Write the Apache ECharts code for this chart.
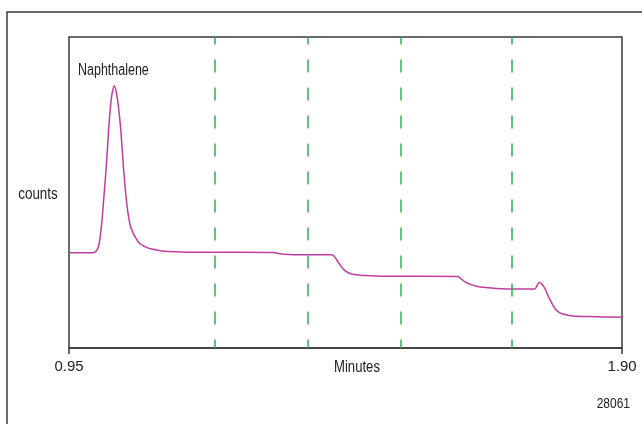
<!DOCTYPE html>
<html>
<head>
<meta charset="utf-8">
<script src="https://cdn.jsdelivr.net/npm/echarts@6/dist/echarts.min.js"></script>
<style>html,body{margin:0;padding:0;background:#fff;}#c{width:642px;height:424px;}</style>
</head>
<body>
<div id="c"></div>
<script>
// Time (minutes) and detector counts (arbitrary units, 0-100)
var minutes = [0.950,0.990,0.996,1.000,1.003,1.006,1.0095,1.013,1.016,1.0187,1.0215,1.024,1.0278,1.0315,1.035,1.0381,1.041,1.0445,1.0495,1.0548,1.060,1.066,1.072,1.080,1.090,1.110,1.140,1.180,1.300,1.310,1.320,1.335,1.400,1.405,1.410,1.416,1.422,1.430,1.440,1.460,1.490,1.618,1.622,1.627,1.634,1.642,1.652,1.662,1.680,1.702,1.750,1.754,1.758,1.762,1.768,1.772,1.7765,1.781,1.785,1.790,1.797,1.806,1.816,1.840,1.870,1.900];
var counts = [30.6,30.6,31.0,32.2,35.0,39.7,47.5,55.8,64.0,71.9,78.0,81.8,84.3,82.0,77.5,71.9,65.0,55.8,46.0,39.7,37.0,35.0,33.5,32.6,31.9,31.2,30.9,30.8,30.7,30.4,30.15,30.0,30.0,29.6,28.3,26.6,25.2,24.2,23.6,23.3,23.1,23.0,22.5,21.7,20.9,20.3,19.8,19.5,19.2,19.0,19.0,20.0,21.1,20.6,19.0,17.2,15.5,13.9,12.6,11.7,11.0,10.6,10.3,10.1,10.0,9.9];
var markerMinutes = [1.20, 1.357, 1.52, 1.705];
var xTicks = [0.95, 1.90];
var peakLabel = 'Naphthalene';
var xName = 'Minutes';
var yName = 'counts';
var figId = '28061';

var FONT = "'Liberation Sans', Arial, sans-serif";
var TXT = '#222';

var pts = minutes.map(function (m, i) { return [m, counts[i]]; });

function label(text, x, y, size, align, sx) {
  return {type: 'text', x: x, y: y, scaleX: sx, scaleY: 1,
    style: {text: text, font: size + 'px ' + FONT, fill: TXT, textAlign: align, textVerticalAlign: 'middle'}};
}

var chart = echarts.init(document.getElementById('c'), null, {renderer: 'canvas'});
chart.setOption({
  animation: false,
  backgroundColor: '#fff',
  grid: {left: 69, right: 20, top: 37, bottom: 76, show: true, borderColor: '#3a3a3a', borderWidth: 1.5},
  xAxis: {
    type: 'value', min: xTicks[0], max: xTicks[1], interval: xTicks[1] - xTicks[0],
    axisLine: {show: true, lineStyle: {color: '#3a3a3a', width: 1.5}},
    axisTick: {show: true, length: 6, lineStyle: {color: '#3a3a3a', width: 1.5}},
    splitLine: {show: false},
    axisLabel: {fontFamily: FONT, fontSize: 15, color: TXT, margin: 11,
      formatter: function (v) { return v.toFixed(2); }}
  },
  yAxis: {type: 'value', min: 0, max: 100, show: false, splitLine: {show: false}},
  graphic: [
    {type: 'rect', shape: {x: 7, y: 12, width: 700, height: 500}, style: {fill: 'none', stroke: '#3a3a3a', lineWidth: 1.5}, z: -1, silent: true},
    label(xName, 357, 368, 16, 'center', 0.82),
    label(yName, 38, 195, 16, 'center', 0.84),
    label(peakLabel, 78, 71, 16, 'left', 0.78),
    label(figId, 630, 404, 15, 'right', 0.8)
  ],
  series: [{
    type: 'line',
    data: pts,
    showSymbol: false,
    smooth: 0.35,
    lineStyle: {color: '#c23c9f', width: 1.5},
    markLine: {
      silent: true,
      symbol: ['none', 'none'],
      label: {show: false},
      lineStyle: {color: '#2db34e', width: 1.5, type: [13, 15], dashOffset: 4.5},
      data: markerMinutes.map(function (m) { return {xAxis: m}; })
    },
    z: 3
  }]
});
</script>
</body>
</html>
